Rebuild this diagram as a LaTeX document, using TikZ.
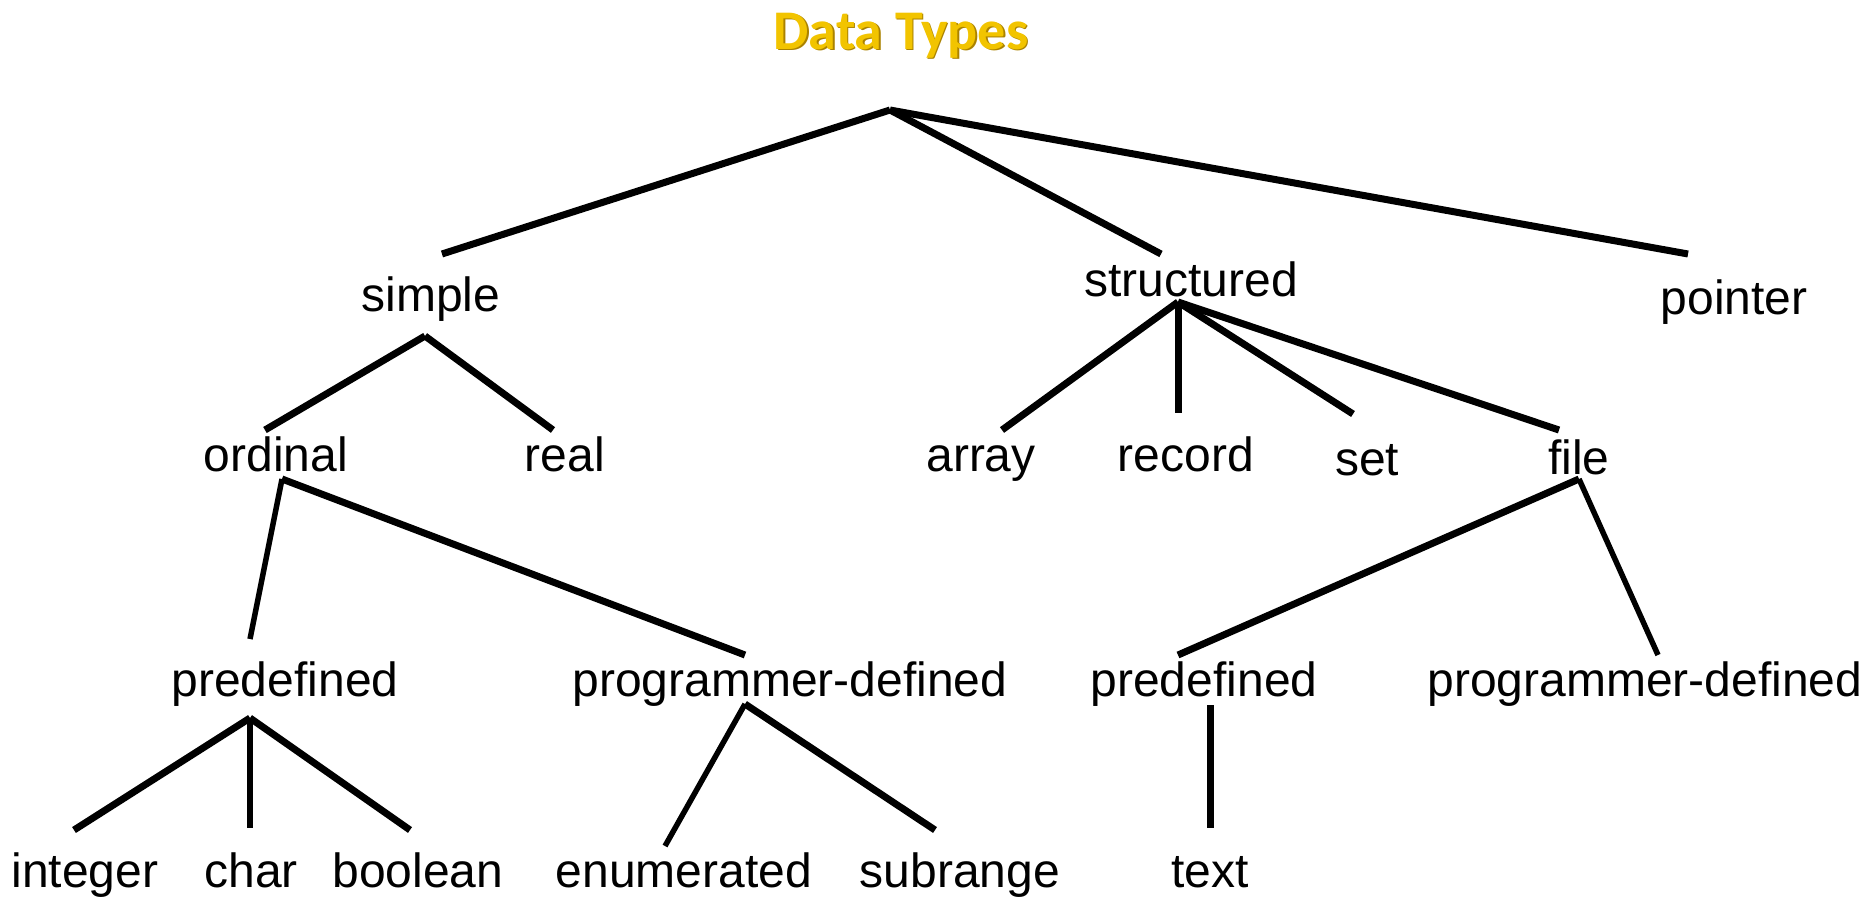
\documentclass[tikz,border=0pt]{standalone}
\usepackage{fontspec}
\setmainfont{Liberation Sans}
\newfontfamily\titlefont{Carlito}
\definecolor{titlegold}{RGB}{242,196,0}
\definecolor{titleshade}{RGB}{170,130,0}

\begin{document}
\begin{tikzpicture}[x=1pt,y=-1pt,
  label/.style={anchor=base,inner sep=0pt,font=\fontsize{48}{54}\selectfont},
  branch/.style={line width=7pt,line cap=butt},
  thinbranch/.style={line width=5.5pt,line cap=butt}]

\useasboundingbox (0,0) rectangle (1873,897);

% title
\node[anchor=base,inner sep=0pt,text=titleshade,font=\titlefont\bfseries\fontsize{56}{60}\selectfont] at (902.5,50.5) {Data Types};
\node (title) [anchor=base,inner sep=0pt,text=titlegold,font=\titlefont\bfseries\fontsize{56}{60}\selectfont] at (901,49) {Data Types};

% labels
\node (simple)     [label] at (431,311) {simple};
\node (structured) [label] at (1191,296) {structured};
\node (pointer)    [label] at (1734,314) {pointer};
\node (ordinal)    [label] at (276,471) {ordinal};
\node (real)       [label] at (565,471) {real};
\node (array)      [label] at (981,471) {array};
\node (record)     [label] at (1186,471) {record};
\node (set)        [label] at (1367,475) {set};
\node (file)       [label] at (1579,474) {file};
\node (predefA)    [label] at (285,696) {predefined};
\node (progdefA)   [label] at (790,696) {programmer-defined};
\node (predefB)    [label] at (1204,696) {predefined};
\node (progdefB)   [label] at (1645,696) {programmer-defined};
\node (integer)    [label] at (85,887) {integer};
\node (char)       [label] at (251,887) {char};
\node (boolean)    [label] at (418,887) {boolean};
\node (enumerated) [label] at (684,887) {enumerated};
\node (subrange)   [label] at (960,887) {subrange};
\node (text)       [label] at (1210,887) {text};

% line ends
\coordinate (root)          at (890,110);
\coordinate (simple-in)     at (442,254);
\coordinate (structured-in) at (1161,254);
\coordinate (pointer-in)    at (1688,254);
\coordinate (simple-out)    at (425,336);
\coordinate (ordinal-in)    at (265,430);
\coordinate (real-in)       at (553,430);
\coordinate (structured-out) at (1178,302);
\coordinate (array-in)      at (1002,430);
\coordinate (record-in)     at (1178,413);
\coordinate (set-in)        at (1353,414);
\coordinate (file-in)       at (1559,430);
\coordinate (ordinal-out)   at (282,479);
\coordinate (predefA-in)    at (250,639);
\coordinate (progdefA-in)   at (745,655);
\coordinate (file-out)      at (1579,479);
\coordinate (predefB-in)    at (1178,655);
\coordinate (progdefB-in)   at (1658,655);
\coordinate (predefA-out)   at (250,718);
\coordinate (integer-in)    at (74,830);
\coordinate (char-in)       at (250,828);
\coordinate (boolean-in)    at (410,830);
\coordinate (progdefA-out)  at (745,704);
\coordinate (enumerated-in) at (665,846);
\coordinate (subrange-in)   at (935,830);
\coordinate (predefB-out)   at (1210,705);
\coordinate (text-in)       at (1210,828);

% branches
\draw[branch] (root) -- (simple-in);
\draw[branch] (root) -- (structured-in);
\draw[branch] (root) -- (pointer-in);

\draw[branch] (simple-out) -- (ordinal-in);
\draw[branch] (simple-out) -- (real-in);

\draw[branch] (structured-out) -- (array-in);
\draw[branch] (structured-out) -- (record-in);
\draw[branch] (structured-out) -- (set-in);
\draw[branch] (structured-out) -- (file-in);

\draw[thinbranch] (ordinal-out) -- (predefA-in);
\draw[branch] (ordinal-out) -- (progdefA-in);

\draw[branch] (file-out) -- (predefB-in);
\draw[thinbranch] (file-out) -- (progdefB-in);

\draw[branch] (predefA-out) -- (integer-in);
\draw[thinbranch] (predefA-out) -- (char-in);
\draw[branch] (predefA-out) -- (boolean-in);

\draw[thinbranch] (progdefA-out) -- (enumerated-in);
\draw[branch] (progdefA-out) -- (subrange-in);

\draw[branch] (predefB-out) -- (text-in);
\end{tikzpicture}
\end{document}
